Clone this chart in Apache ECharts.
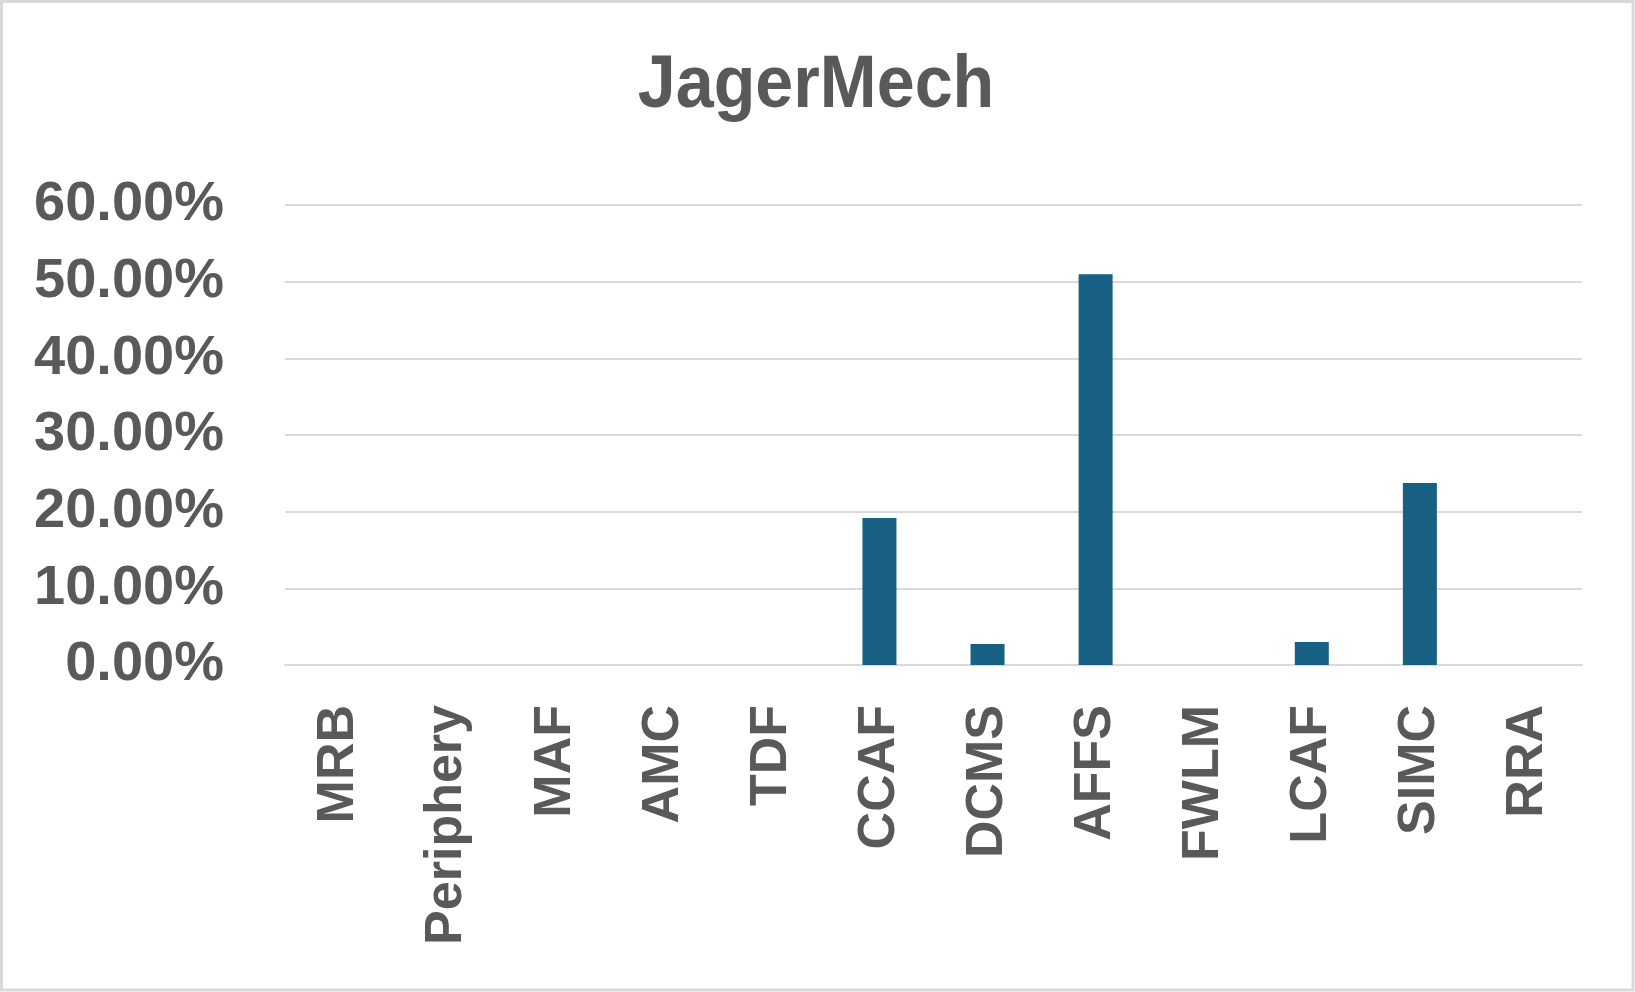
<!DOCTYPE html>
<html>
<head>
<meta charset="utf-8">
<script src="https://cdn.jsdelivr.net/npm/echarts@6/dist/echarts.min.js"></script>
<style>
  html, body { margin: 0; padding: 0; background: #ffffff; }
  #chart { width: 1635px; height: 992px; }
</style>
</head>
<body>
<div id="chart"></div>
<script>
const titleText = "JagerMech";
const categories = ["MRB", "Periphery", "MAF", "AMC", "TDF", "CCAF", "DCMS", "AFFS", "FWLM", "LCAF", "SIMC", "RRA"];
const values = [0, 0, 0, 0, 0, 19.17, 2.74, 50.98, 0, 3.0, 23.73, 0];
const yTicks = [0, 10, 20, 30, 40, 50, 60];

const chart = echarts.init(document.getElementById('chart'), null, { renderer: 'canvas' });
chart.setOption({
  backgroundColor: '#ffffff',
  animation: false,
  graphic: [{
    type: 'rect',
    shape: { x: 1.5, y: 1.5, width: 1631.5, height: 988.5 },
    style: { fill: 'none', stroke: '#d9d9d9', lineWidth: 3 },
    silent: true
  }, {
    type: 'text',
    x: 816,
    y: 86,
    scaleX: 0.91,
    style: {
      text: titleText,
      fill: '#595959',
      font: 'bold 75px "Liberation Sans", Arial, sans-serif',
      align: 'center',
      verticalAlign: 'middle'
    },
    silent: true
  }],
  grid: { left: 285, right: 53, top: 205, bottom: 327, containLabel: false },
  xAxis: {
    type: 'category',
    data: categories,
    axisLine: { show: true, lineStyle: { color: '#d9d9d9', width: 2 } },
    axisTick: { show: false },
    axisLabel: {
      rotate: 90,
      margin: 40,
      interval: 0,
      color: '#595959',
      fontFamily: '"Liberation Sans", Arial, sans-serif',
      fontWeight: 'bold',
      fontSize: 52
    }
  },
  yAxis: {
    type: 'value',
    min: yTicks[0],
    max: yTicks[yTicks.length - 1],
    interval: 10,
    axisLine: { show: false },
    axisTick: { show: false },
    splitLine: { show: true, lineStyle: { color: '#d9d9d9', width: 2 } },
    axisLabel: {
      margin: 61,
      color: '#595959',
      fontFamily: '"Liberation Sans", Arial, sans-serif',
      fontWeight: 'bold',
      fontSize: 56,
      formatter: v => v.toFixed(2) + '%'
    }
  },
  series: [{
    type: 'bar',
    data: values,
    barWidth: 34,
    itemStyle: { color: '#176083' }
  }]
});
</script>
</body>
</html>
